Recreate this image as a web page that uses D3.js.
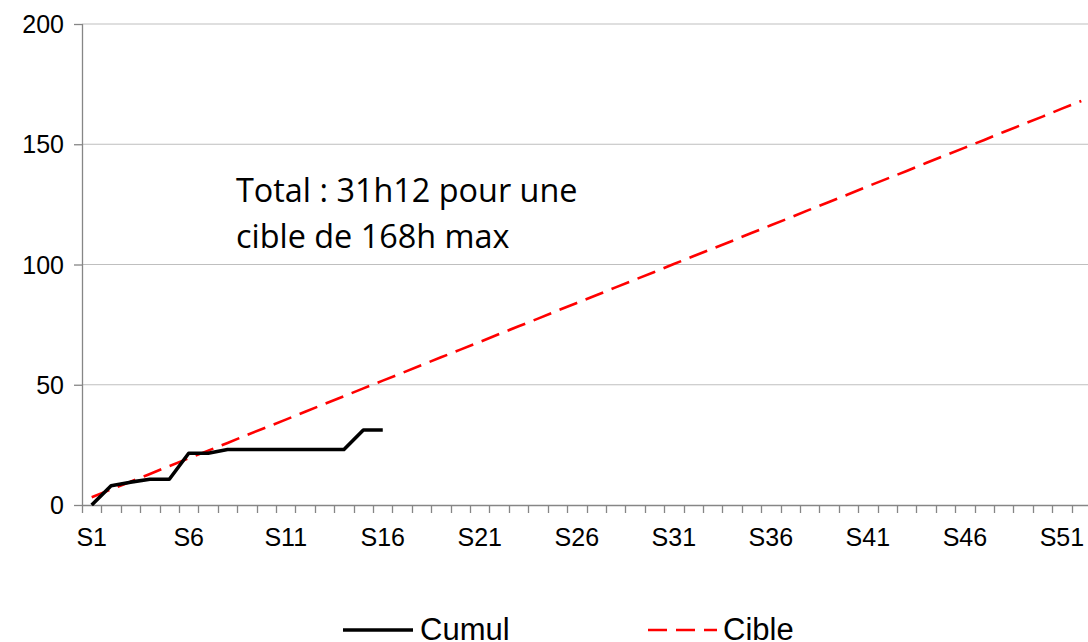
<!DOCTYPE html>
<html>
<head>
<meta charset="utf-8">
<script src="https://cdn.jsdelivr.net/npm/d3@7"></script>
<style>
  body { margin: 0; background: #fff; }
  svg { display: block; }
</style>
</head>
<body>
<svg id="chart" width="1088" height="642"></svg>
<script>
// weeks S1..S52
var weeks = d3.range(1, 53).map(function(i){ return "S" + i; });

// cumulated hours (S1..S16)
var cumul = [0, 8.0, 9.5, 10.7, 10.7, 21.5, 21.5, 23.1, 23.1, 23.1, 23.1, 23.1, 23.1, 23.1, 31.2, 31.2];

// target line (168h max over 52 weeks)
var cible = [3.2, 6.5, 9.7, 12.9, 16.2, 19.4, 22.6, 25.8, 29.1, 32.3,
             35.5, 38.8, 42.0, 45.2, 48.5, 51.7, 54.9, 58.2, 61.4, 64.6,
             67.8, 71.1, 74.3, 77.5, 80.8, 84.0, 87.2, 90.5, 93.7, 96.9,
             100.2, 103.4, 106.6, 109.8, 113.1, 116.3, 119.5, 122.8, 126.0, 129.2,
             132.5, 135.7, 138.9, 142.2, 145.4, 148.6, 151.8, 155.1, 158.3, 161.5,
             164.8, 168.0];

var yTicks = [0, 50, 100, 150, 200];
var xLabels = ["S1", "S6", "S11", "S16", "S21", "S26", "S31", "S36", "S41", "S46", "S51"];

// plot runs a little past the right edge of the picture
var margin = {top: 24, left: 82, right: -3, bottom: 137}
  , width = 1088 - margin.left - margin.right
  , height = 642 - margin.top - margin.bottom;

var svg = d3.select("#chart");
var g = svg.append("g").attr("transform", "translate(" + margin.left + "," + margin.top + ")");

var xScale = d3.scaleBand().domain(weeks).range([0, width]).padding(0);
var yScale = d3.scaleLinear().domain([0, 200]).range([height, 0]);
var cx = function(w){ return xScale(w) + xScale.bandwidth() / 2; };

var axisFont = "'Liberation Sans', Arial, sans-serif";

// gridlines
g.selectAll("line.grid")
    .data(yTicks.filter(function(d){ return d > 0; }))
    .enter().append("line")
    .attr("class", "grid")
    .attr("x1", 0).attr("x2", width)
    .attr("y1", function(d){ return yScale(d); })
    .attr("y2", function(d){ return yScale(d); })
    .attr("stroke", "#bfbfbf").attr("stroke-width", 1);

// y axis
var yAxis = g.append("g")
    .call(d3.axisLeft(yScale).tickValues(yTicks).tickSize(8).tickPadding(10));
yAxis.select(".domain").attr("stroke", "#868686").attr("stroke-width", 1.3).attr("d", "M0.5," + height + "V0");
yAxis.selectAll(".tick line").attr("stroke", "#868686").attr("stroke-width", 1.3);
yAxis.selectAll(".tick text").attr("font-family", axisFont).attr("font-size", 25).attr("fill", "#000").attr("dy", "0.34em");

// x axis: tick marks on the category boundaries
var xa = g.append("g").attr("transform", "translate(0," + height + ")");
xa.append("line").attr("x1", 0).attr("x2", width).attr("y1", 0.5).attr("y2", 0.5)
    .attr("stroke", "#868686").attr("stroke-width", 1.3);
xa.selectAll("line.xt")
    .data(weeks.concat(["end"]))
    .enter().append("line")
    .attr("class", "xt")
    .attr("x1", function(d, i){ return Math.round(i * xScale.step()) + 0.5; })
    .attr("x2", function(d, i){ return Math.round(i * xScale.step()) + 0.5; })
    .attr("y1", 0).attr("y2", 8)
    .attr("stroke", "#868686").attr("stroke-width", 1.3);
xa.selectAll("text")
    .data(xLabels)
    .enter().append("text")
    .attr("x", function(d){ return cx(d); })
    .attr("y", 41)
    .attr("text-anchor", "middle")
    .attr("font-family", axisFont).attr("font-size", 25).attr("fill", "#000")
    .text(function(d){ return d; });

// cible line
var line = d3.line()
    .x(function(d){ return cx(d.w); })
    .y(function(d){ return yScale(d.v); });

g.append("path")
    .datum(cible.map(function(v, i){ return {w: weeks[i], v: v}; }))
    .attr("fill", "none")
    .attr("stroke", "#ff0000")
    .attr("stroke-width", 2.6)
    .attr("stroke-dasharray", "19,9")
    .attr("d", line);

// cumul line
g.append("path")
    .datum(cumul.map(function(v, i){ return {w: weeks[i], v: v}; }))
    .attr("fill", "none")
    .attr("stroke", "#000")
    .attr("stroke-width", 3.6)
    .attr("stroke-linejoin", "round")
    .attr("d", line);

// annotation
var note = svg.append("text")
    .attr("font-family", "'Open Sans', 'Noto Sans', sans-serif")
    .attr("font-size", 32.4)
    .attr("fill", "#000");
note.append("tspan").attr("x", 236).attr("y", 202).text("Total : 31h12 pour une");
note.append("tspan").attr("x", 236).attr("y", 248).text("cible de 168h max");

// legend
var leg = svg.append("g");
leg.append("line").attr("x1", 343).attr("x2", 413).attr("y1", 630).attr("y2", 630)
    .attr("stroke", "#000").attr("stroke-width", 3.6);
leg.append("text").attr("x", 420).attr("y", 640)
    .attr("font-family", axisFont).attr("font-size", 31).text("Cumul");
leg.append("line").attr("x1", 648).attr("x2", 717).attr("y1", 630).attr("y2", 630)
    .attr("stroke", "#ff0000").attr("stroke-width", 2.6).attr("stroke-dasharray", "19,9");
leg.append("text").attr("x", 723).attr("y", 640)
    .attr("font-family", axisFont).attr("font-size", 31).text("Cible");
</script>
</body>
</html>
